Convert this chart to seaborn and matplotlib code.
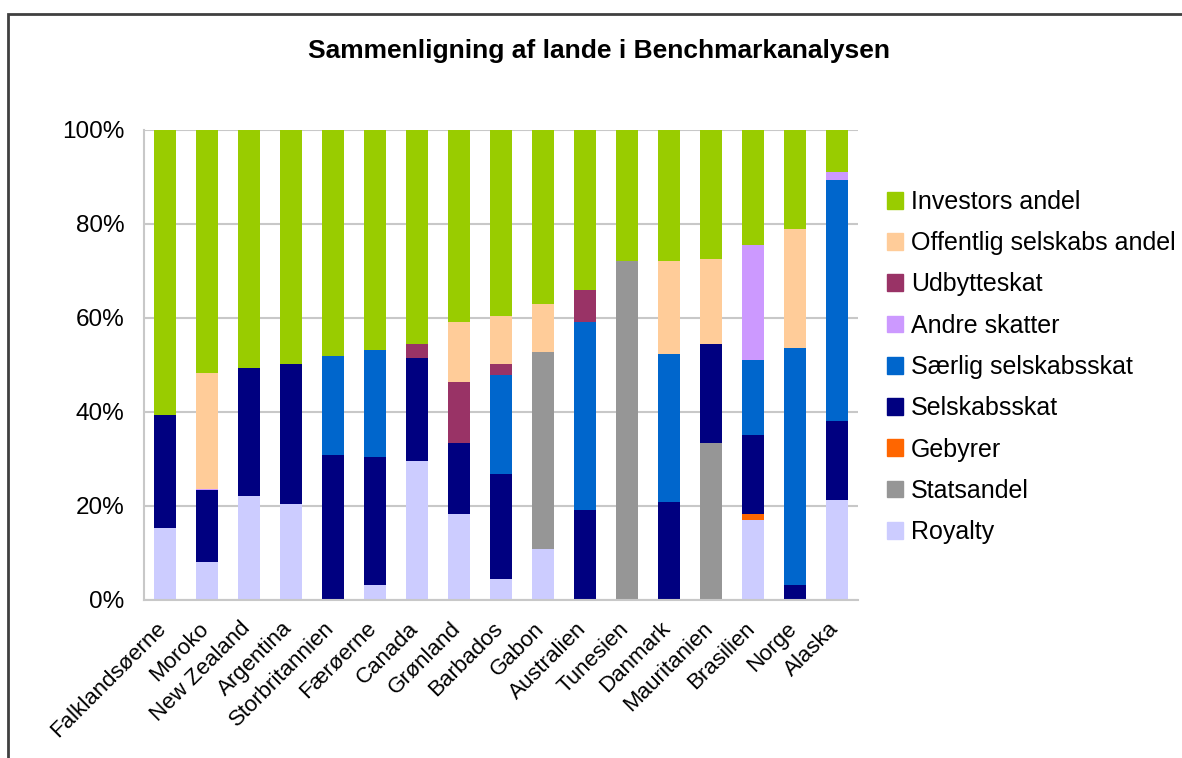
import numpy as np
import pandas as pd
import matplotlib
matplotlib.use('Agg')
import matplotlib.pyplot as plt
import matplotlib.patches as mpatches
import matplotlib.transforms as mtrans
from matplotlib.ticker import PercentFormatter
import seaborn as sns

# Countries in the benchmark
countries = ['Falklandsøerne', 'Moroko', 'New Zealand', 'Argentina', 'Storbritannien',
             'Færøerne', 'Canada', 'Grønland', 'Barbados', 'Gabon', 'Australien',
             'Tunesien', 'Danmark', 'Mauritanien', 'Brasilien', 'Norge', 'Alaska']

# Shares in percent, bottom of the stack first
royalty     = [15.4, 8.1, 22.1, 20.4, 0, 3.2, 29.6, 18.3, 4.5, 10.8, 0, 0, 0, 0, 17.0, 0, 21.3]
statsandel  = [0, 0, 0, 0, 0, 0, 0, 0, 0, 42.0, 0, 72.1, 0, 33.4, 0, 0, 0]
gebyrer     = [0, 0, 0, 0, 0, 0, 0, 0, 0, 0, 0, 0, 0, 0, 1.3, 0, 0]
selskabsskat = [24.0, 15.3, 27.3, 29.8, 30.9, 27.2, 21.9, 15.1, 22.3, 0, 19.1, 0, 20.9, 21.1, 16.8, 3.2, 16.8]
saerlig     = [0, 0, 0, 0, 21.0, 22.8, 0, 0, 21.0, 0, 40.0, 0, 31.4, 0, 16.0, 50.4, 51.3]
andre       = [0, 0.3, 0, 0, 0, 0, 0, 0, 0, 0, 0, 0, 0, 0, 24.4, 0, 1.7]
udbytte     = [0, 0, 0, 0, 0, 0, 3.0, 13.0, 2.4, 0, 6.9, 0, 0, 0, 0, 0, 0]
offentlig   = [0, 24.7, 0, 0, 0, 0, 0, 12.7, 10.2, 10.2, 0, 0, 19.8, 18.1, 0, 25.4, 0]
investors   = [60.6, 51.6, 50.6, 49.8, 48.1, 46.8, 45.5, 40.9, 39.6, 37.0, 34.0, 27.9, 27.9, 27.4, 24.5, 21.0, 8.9]

series_names = ['Royalty', 'Statsandel', 'Gebyrer', 'Selskabsskat', 'Særlig selskabsskat',
                'Andre skatter', 'Udbytteskat', 'Offentlig selskabs andel', 'Investors andel']
series_colors = ['#CCCCFF', '#969696', '#FF6600', '#000080', '#0066CC',
                 '#CC99FF', '#993366', '#FFCC99', '#99CC00']

df = pd.DataFrame(dict(zip(series_names,
                           [royalty, statsandel, gebyrer, selskabsskat, saerlig,
                            andre, udbytte, offentlig, investors])), index=countries)
# 100% stacked
df = df.div(df.sum(axis=1), axis=0) * 100
cum = df.cumsum(axis=1)

sns.set_style('white')
plt.rcParams['font.family'] = ['Liberation Sans', 'DejaVu Sans']
plt.rcParams['text.color'] = 'black'
plt.rcParams['xtick.color'] = 'black'
plt.rcParams['ytick.color'] = 'black'

fig = plt.figure(figsize=(11.82, 7.58), dpi=100)
ax = fig.add_axes([144 / 1182, 1 - 600 / 758, (858 - 144) / 1182, 470 / 758])

# draw cumulative totals from the top series down so lower ones overlay
for name, color in zip(series_names[::-1], series_colors[::-1]):
    plot_df = pd.DataFrame({'land': countries, 'val': cum[name].values})
    sns.barplot(data=plot_df, x='land', y='val', order=countries, color=color,
                width=0.52, saturation=1, linewidth=0, edgecolor='none', ax=ax, zorder=2)

ax.set_ylim(0, 100)
ax.set_xlim(-0.5, len(countries) - 0.5)
ax.yaxis.set_major_formatter(PercentFormatter(decimals=0))
ax.set_yticks(np.arange(0, 101, 20))
ax.set_xlabel('')
ax.set_ylabel('')

grid_c = '#c8c8c8'
ax.grid(axis='y', color=grid_c, lw=1.5, zorder=0)
ax.set_axisbelow(True)
for s in ['top', 'right']:
    ax.spines[s].set_visible(False)
ax.spines['left'].set_color(grid_c)
ax.spines['bottom'].set_color(grid_c)
ax.spines['left'].set_linewidth(1.5)
ax.spines['bottom'].set_linewidth(1.5)

ax.tick_params(axis='y', length=8, width=1.5, color=grid_c, labelsize=17.5,
               labelcolor='black', pad=6)
ax.tick_params(axis='x', which='major', length=0, labelsize=16, labelcolor='black', pad=13)
ax.set_xticks(np.arange(-0.5, len(countries)), minor=True)
ax.tick_params(axis='x', which='minor', length=6, width=1.5, color=grid_c)
shift = mtrans.ScaledTranslation(-9 / 100, 0, fig.dpi_scale_trans)
for lab in ax.get_xticklabels():
    lab.set_rotation(45)
    lab.set_ha('right')
    lab.set_rotation_mode('anchor')
    lab.set_transform(lab.get_transform() + shift)

fig.text(599 / 1182, 1 - 51 / 758, 'Sammenligning af lande i Benchmarkanalysen',
         ha='center', va='center', fontsize=19, fontweight='bold', color='black')

handles = [mpatches.Patch(color=c, label=n)
           for n, c in zip(series_names[::-1], series_colors[::-1])]
fig.legend(handles=handles, loc='upper left', bbox_to_anchor=(887 / 1182, 1 - 190 / 758),
           frameon=False, fontsize=18, handlelength=0.65, handleheight=0.65,
           handletextpad=0.3, labelspacing=0.69, borderpad=0, borderaxespad=0,
           labelcolor='black')

# chart border (cropped at right and bottom)
fig.add_artist(mpatches.Rectangle((7.5 / 1182, -0.1), 1.2, 1 - 14 / 758 + 0.1,
                                  transform=fig.transFigure, fill=False,
                                  edgecolor='#404040', lw=2))

fig.savefig('out.png', dpi=100)
